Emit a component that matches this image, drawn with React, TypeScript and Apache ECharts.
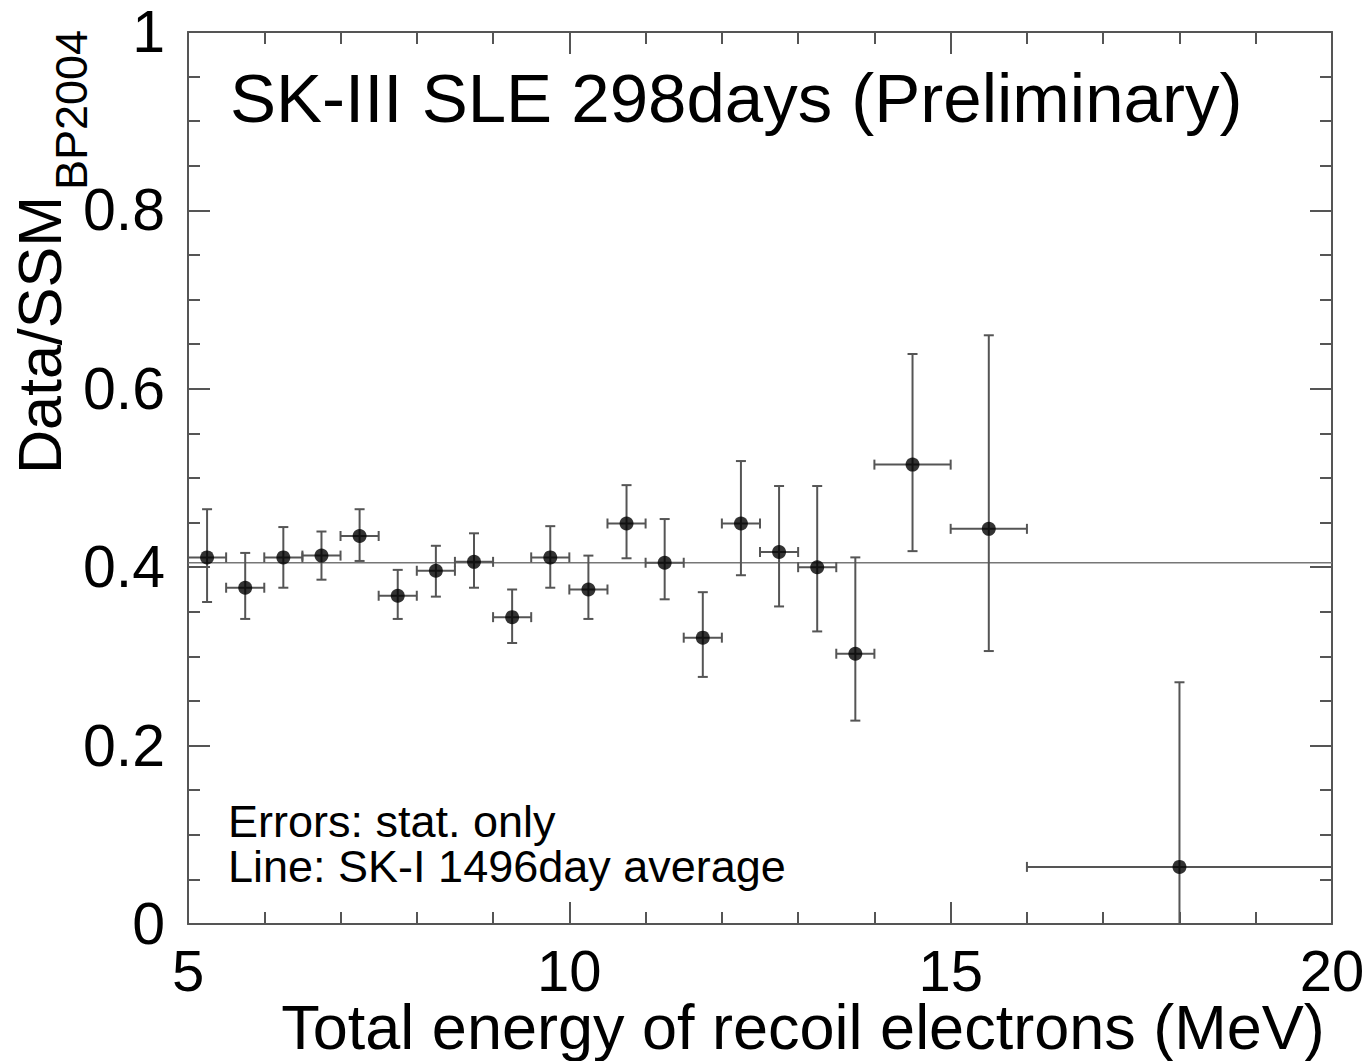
import React, { useEffect, useRef } from "react";
import * as echarts from "echarts";

// Energy bins (MeV)
const binLow = [5.0, 5.5, 6.0, 6.5, 7.0, 7.5, 8.0, 8.5, 9.0, 9.5, 10.0, 10.5, 11.0, 11.5, 12.0, 12.5, 13.0, 13.5, 14.0, 15.0, 16.0];
const binHigh = [5.5, 6.0, 6.5, 7.0, 7.5, 8.0, 8.5, 9.0, 9.5, 10.0, 10.5, 11.0, 11.5, 12.0, 12.5, 13.0, 13.5, 14.0, 15.0, 16.0, 20.0];
const binCenter = [5.25, 5.75, 6.25, 6.75, 7.25, 7.75, 8.25, 8.75, 9.25, 9.75, 10.25, 10.75, 11.25, 11.75, 12.25, 12.75, 13.25, 13.75, 14.5, 15.5, 18.0];
// Data / SSM(BP2004)
const ratio = [0.411, 0.377, 0.411, 0.413, 0.435, 0.368, 0.396, 0.406, 0.344, 0.411, 0.375, 0.449, 0.405, 0.321, 0.449, 0.417, 0.400, 0.303, 0.515, 0.443, 0.064];
const errLow = [0.361, 0.342, 0.377, 0.386, 0.407, 0.342, 0.367, 0.377, 0.315, 0.377, 0.342, 0.410, 0.364, 0.277, 0.391, 0.356, 0.328, 0.228, 0.418, 0.306, -0.143];
const errHigh = [0.465, 0.416, 0.445, 0.440, 0.465, 0.397, 0.424, 0.438, 0.375, 0.446, 0.413, 0.492, 0.454, 0.372, 0.519, 0.491, 0.491, 0.411, 0.639, 0.660, 0.271];
// SK-I 1496 day average
const skIAverage = 0.405;
const avgLineX = [5, 20];

const FONT = '"Liberation Sans", Arial, sans-serif';
const AXIS_COLOR = "#555";
const ERR_COLOR = "#555";

export default function App() {
  const ref = useRef<HTMLDivElement>(null);

  useEffect(() => {
    if (!ref.current) return;
    const chart = echarts.init(ref.current, null, { renderer: "svg" });

    const errData = binCenter.map((c, i) => [c, ratio[i], errLow[i], errHigh[i], binLow[i], binHigh[i]]);
    const pointData = binCenter.map((c, i) => [c, ratio[i]]);
    const avgData = avgLineX.map((x) => [x, skIAverage]);

    const axisLineStyle = { color: AXIS_COLOR, width: 2 };
    const xAxisBase = {
      type: "value",
      min: 5,
      max: 20,
      interval: 5,
      axisLine: { show: true, onZero: false, lineStyle: axisLineStyle },
      axisTick: { show: true, inside: true, length: 22, lineStyle: axisLineStyle },
      minorTick: { show: true, splitNumber: 5, length: 12, lineStyle: axisLineStyle },
      splitLine: { show: false },
      minorSplitLine: { show: false },
    };
    const yAxisBase = {
      type: "value",
      min: 0,
      max: 1,
      interval: 0.2,
      axisLine: { show: true, onZero: false, lineStyle: axisLineStyle },
      axisTick: { show: true, inside: true, length: 22, lineStyle: axisLineStyle },
      minorTick: { show: true, splitNumber: 4, length: 12, lineStyle: axisLineStyle },
      splitLine: { show: false },
      minorSplitLine: { show: false },
    };

    const option: any = {
      animation: false,
      backgroundColor: "#fff",
      grid: { left: 188, right: 37, top: 32, bottom: 137, containLabel: false },
      xAxis: [
        {
          ...xAxisBase,
          position: "bottom",
          axisLabel: { show: true, fontSize: 58, lineHeight: 44, color: "#000", fontFamily: FONT, margin: 24 },
        },
        {
          ...xAxisBase,
          position: "top",
          axisLabel: { show: false },
        },
      ],
      yAxis: [
        {
          ...yAxisBase,
          position: "left",
          axisLabel: { show: true, fontSize: 59, lineHeight: 46, color: "#000", fontFamily: FONT, margin: 23 },
        },
        {
          ...yAxisBase,
          position: "right",
          axisLabel: { show: false },
        },
      ],
      series: [
        {
          type: "line",
          data: avgData,
          xAxisIndex: 0,
          yAxisIndex: 0,
          symbol: "none",
          lineStyle: { color: "#777", width: 1.5 },
          z: 2,
        },
        {
          type: "custom",
          xAxisIndex: 0,
          yAxisIndex: 0,
          clip: true,
          data: errData,
          encode: { x: 0, y: 1 },
          renderItem: (params: any, api: any) => {
            const x = api.value(0);
            const y = api.value(1);
            const lo = api.value(2);
            const hi = api.value(3);
            const xl = api.value(4);
            const xh = api.value(5);
            const c = api.coord([x, y]);
            const pLo = api.coord([x, lo]);
            const pHi = api.coord([x, hi]);
            const pXl = api.coord([xl, y]);
            const pXh = api.coord([xh, y]);
            const cap = 5;
            const style = { stroke: ERR_COLOR, lineWidth: 2, fill: "none" };
            return {
              type: "group",
              children: [
                { type: "line", shape: { x1: c[0], y1: pLo[1], x2: c[0], y2: pHi[1] }, style },
                { type: "line", shape: { x1: c[0] - cap, y1: pLo[1], x2: c[0] + cap, y2: pLo[1] }, style },
                { type: "line", shape: { x1: c[0] - cap, y1: pHi[1], x2: c[0] + cap, y2: pHi[1] }, style },
                { type: "line", shape: { x1: pXl[0], y1: c[1], x2: pXh[0], y2: c[1] }, style },
                { type: "line", shape: { x1: pXl[0], y1: c[1] - cap, x2: pXl[0], y2: c[1] + cap }, style },
                { type: "line", shape: { x1: pXh[0], y1: c[1] - cap, x2: pXh[0], y2: c[1] + cap }, style },
              ],
            };
          },
          z: 3,
        },
        {
          type: "scatter",
          xAxisIndex: 0,
          yAxisIndex: 0,
          data: pointData,
          symbol: "circle",
          symbolSize: 14,
          itemStyle: { color: "#000" },
          z: 4,
        },
      ],
      graphic: [
        {
          type: "text",
          x: 230,
          y: 98,
          style: { text: "SK-III SLE 298days (Preliminary)", fontSize: 69, fontFamily: FONT, fill: "#000", align: "left", verticalAlign: "middle" },
        },
        {
          type: "text",
          x: 228,
          y: 821,
          style: { text: "Errors: stat. only", fontSize: 45, lineHeight: 38, fontFamily: FONT, fill: "#000", align: "left", verticalAlign: "middle" },
        },
        {
          type: "text",
          x: 228,
          y: 866,
          style: { text: "Line: SK-I 1496day average", fontSize: 45, lineHeight: 38, fontFamily: FONT, fill: "#000", align: "left", verticalAlign: "middle" },
        },
        {
          type: "text",
          x: 803,
          y: 1027,
          style: { text: "Total energy of recoil electrons (MeV)", fontSize: 63, lineHeight: 50, fontFamily: FONT, fill: "#000", align: "center", verticalAlign: "middle" },
        },
        {
          type: "text",
          x: 40,
          y: 474,
          rotation: Math.PI / 2,
          style: { text: "Data/SSM", fontSize: 61, fontFamily: FONT, fill: "#000", align: "left", verticalAlign: "middle" },
        },
        {
          type: "text",
          x: 71,
          y: 190,
          rotation: Math.PI / 2,
          style: { text: "BP2004", fontSize: 45, fontFamily: FONT, fill: "#000", align: "left", verticalAlign: "middle" },
        },
      ],
    };

    chart.setOption(option);
    return () => chart.dispose();
  }, []);

  return (
    <div
      ref={ref}
      style={{ position: "absolute", left: 0, top: 0, width: 1369, height: 1061, background: "#fff" }}
    />
  );
}
